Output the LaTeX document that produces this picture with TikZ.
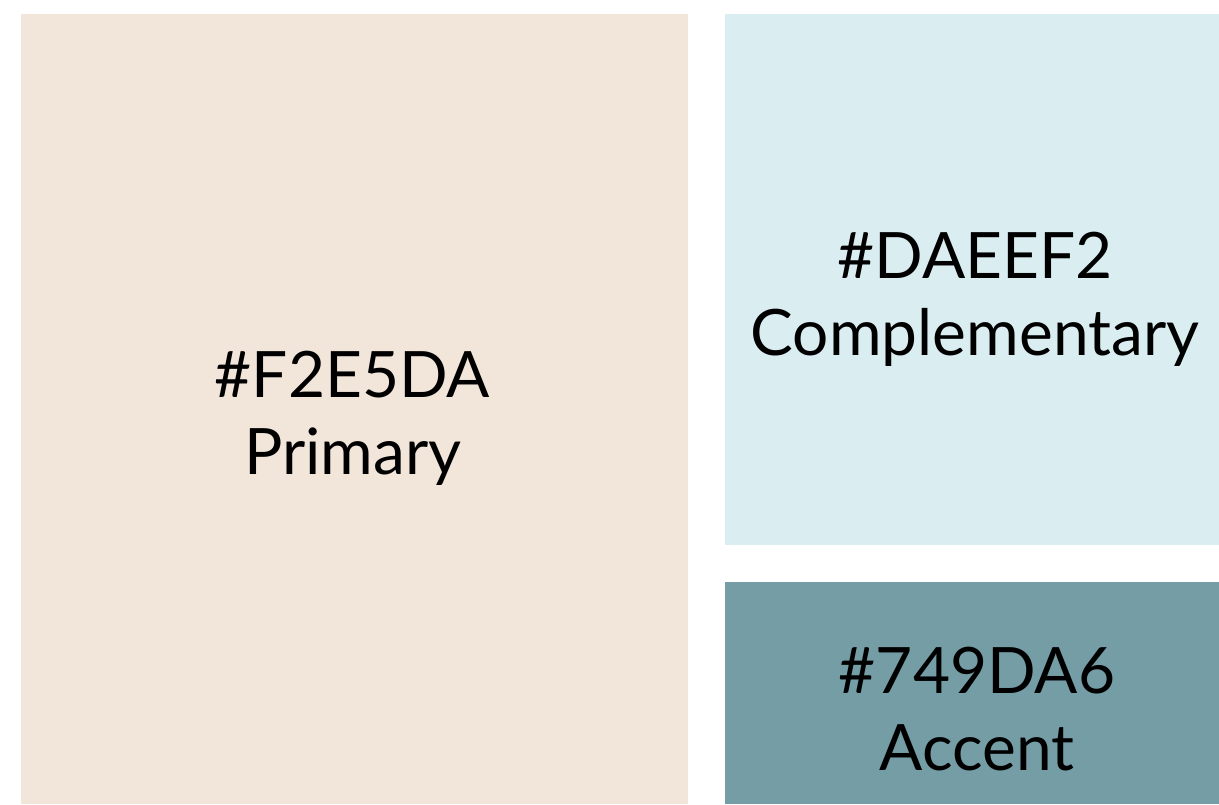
\documentclass[tikz,border=0pt]{standalone}
\usepackage{fontspec}
\setmainfont{Lato}
\definecolor{primaryc}{HTML}{F2E5DA}
\definecolor{complc}{HTML}{DAEEF2}
\definecolor{accentc}{HTML}{749DA6}
\begin{document}
\begin{tikzpicture}[x=1pt,y=-1pt,
  swatch/.style={fill=#1,draw=none},
  lbl/.style={anchor=base,inner sep=0pt,font=\fontsize{64}{77}\selectfont,text=black}]
\useasboundingbox (0,0) rectangle (1219,804);
\fill[white] (0,0) rectangle (1219,804);
\path[swatch=primaryc] (21,14) rectangle (688,804);
\path[swatch=complc] (725,14) rectangle (1219,545);
\path[swatch=accentc] (725,582) rectangle (1219,804);
\node[lbl] (p1) at (352.5,397) {\#F2E5DA};
\node[lbl] (p2) at (353,474) {Primary};
\node[lbl] (c1) at (975,278) {\#DAEEF2};
\node[lbl] (c2) at (975,355) {Complementary};
\node[lbl] (a1) at (977,693) {\#749DA6};
\node[lbl] (a2) at (977,770) {Accent};
\end{tikzpicture}
\end{document}
